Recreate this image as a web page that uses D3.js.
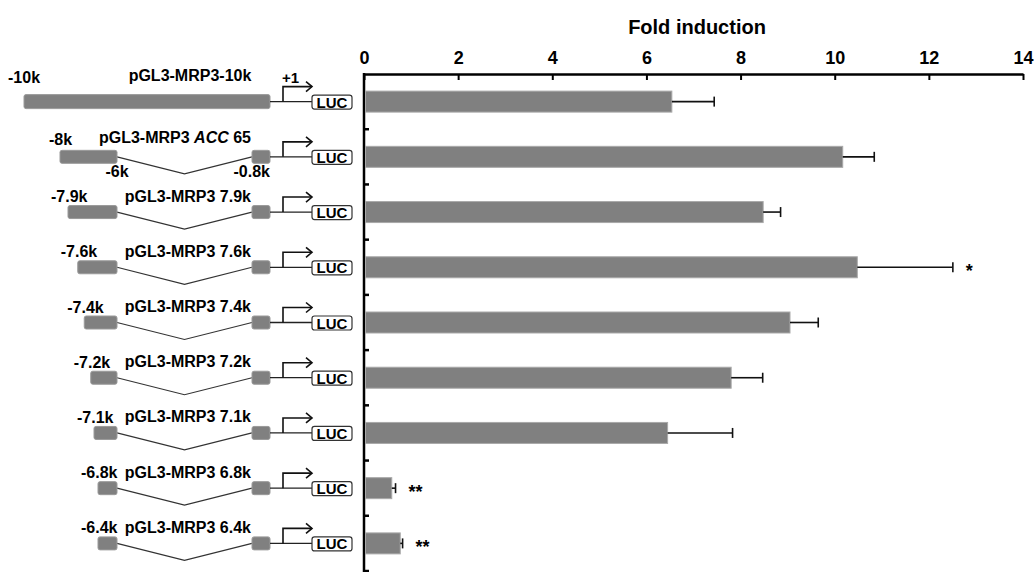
<!DOCTYPE html>
<html>
<head>
<meta charset="utf-8">
<script src="https://cdn.jsdelivr.net/npm/d3@7"></script>
<style>
  body { margin: 0; background: #fff; }
  svg { display: block; font-family: "Liberation Sans", Arial, sans-serif; font-weight: bold; }
</style>
</head>
<body>
<svg id="chart" width="1034" height="572"></svg>
<script>
// constructs, top to bottom
const constructs = ["pGL3-MRP3-10k", "pGL3-MRP3 ACC 65", "pGL3-MRP3 7.9k", "pGL3-MRP3 7.6k",
  "pGL3-MRP3 7.4k", "pGL3-MRP3 7.2k", "pGL3-MRP3 7.1k", "pGL3-MRP3 6.8k", "pGL3-MRP3 6.4k"];
const startLabels = ["-10k", "-8k", "-7.9k", "-7.6k", "-7.4k", "-7.2k", "-7.1k", "-6.8k", "-6.4k"];
const startKb = [-10, -8, -7.9, -7.6, -7.4, -7.2, -7.1, -6.8, -6.4];
const foldInduction = [6.54, 10.17, 8.48, 10.48, 9.05, 7.80, 6.45, 0.59, 0.77];
const errorBars = [0.90, 0.67, 0.37, 2.03, 0.60, 0.67, 1.38, 0.08, 0.05];
const significance = ["", "", "", "*", "", "", "", "**", "**"];
const xTicks = [0, 2, 4, 6, 8, 10, 12, 14];

const svg = d3.select("#chart");

const x = d3.scaleLinear().domain([0, 14]).range([364, 1023]);
const y = d3.scaleBand().domain(constructs).range([74, 571]);
const cy = (d) => y(d) + y.bandwidth() / 2;

// schematic position of each construct's 5' end (not to scale)
const gene = d3.scaleLinear()
  .domain([-10, -8, -7.9, -7.1, -6.8])
  .range([24, 60, 68, 94, 98])
  .clamp(true);
const delStart = 117, delEnd = 252, exonEnd = 270;
const lucX = 312, lucW = 40;

const rows = constructs.map((name, i) => ({
  name, i,
  start: startKb[i],
  startLabel: startLabels[i],
  value: foldInduction[i],
  err: errorBars[i],
  sig: significance[i]
}));

// title
svg.append("text")
  .attr("x", 697).attr("y", 34)
  .attr("text-anchor", "middle")
  .attr("font-size", 20)
  .text("Fold induction");

// top axis
const xAxis = svg.append("g")
  .attr("transform", "translate(0,74)")
  .call(d3.axisTop(x).tickValues(xTicks).tickSizeInner(-6).tickSizeOuter(0).tickPadding(10));
xAxis.select(".domain").attr("stroke", "#000").attr("stroke-width", 2.5);
xAxis.selectAll(".tick line").attr("stroke", "#000").attr("stroke-width", 2);
xAxis.selectAll(".tick text")
  .attr("fill", "#000")
  .attr("font-size", 18)
  .attr("font-family", "'Liberation Sans', Arial, sans-serif")
  .attr("font-weight", "bold");

// left axis line and ticks between rows
svg.append("line")
  .attr("x1", x(0)).attr("x2", x(0))
  .attr("y1", 73).attr("y2", 572)
  .attr("stroke", "#000").attr("stroke-width", 2.5);
svg.append("g").selectAll("line")
  .data(constructs.slice(1).map((d) => y(d)).concat([y.range()[1]]))
  .join("line")
  .attr("x1", x(0)).attr("x2", x(0) + 5)
  .attr("y1", (d) => d).attr("y2", (d) => d)
  .attr("stroke", "#000").attr("stroke-width", 2.5);

// bars
const barH = 21;
svg.append("g").selectAll("rect")
  .data(rows)
  .join("rect")
  .attr("x", x(0) + 1.5)
  .attr("y", (d) => cy(d.name) - barH / 2)
  .attr("width", (d) => x(d.value) - x(0) - 1.5)
  .attr("height", barH)
  .attr("fill", "#808080")
  .attr("stroke", "#a9a9a9")
  .attr("stroke-width", 1);

// error bars
const err = svg.append("g").attr("stroke", "#111").attr("stroke-width", 1.6);
err.selectAll("line.stem")
  .data(rows)
  .join("line")
  .attr("class", "stem")
  .attr("x1", (d) => x(d.value)).attr("x2", (d) => x(d.value + d.err))
  .attr("y1", (d) => cy(d.name)).attr("y2", (d) => cy(d.name));
err.selectAll("line.cap")
  .data(rows)
  .join("line")
  .attr("class", "cap")
  .attr("x1", (d) => x(d.value + d.err)).attr("x2", (d) => x(d.value + d.err))
  .attr("y1", (d) => cy(d.name) - 5).attr("y2", (d) => cy(d.name) + 5);

// significance stars
svg.append("g").selectAll("text")
  .data(rows.filter((d) => d.sig))
  .join("text")
  .attr("x", (d) => x(d.value + d.err) + 13)
  .attr("y", (d) => cy(d.name) + 10)
  .attr("font-size", 18)
  .text((d) => d.sig);

// construct diagrams
const diag = svg.append("g");
rows.forEach((d) => {
  const c = cy(d.name);
  const g = diag.append("g");
  if (d.i === 0) {
    g.append("rect")
      .attr("x", gene(d.start)).attr("y", c - 7)
      .attr("width", exonEnd - gene(d.start)).attr("height", 14)
      .attr("rx", 2).attr("fill", "#808080").attr("stroke", "#9a9a9a");
  } else {
    const left = gene(d.start);
    g.append("path")
      .attr("d", `M${delStart},${c} L${(delStart + delEnd) / 2},${c + 17} L${delEnd},${c}`)
      .attr("fill", "none").attr("stroke", "#333").attr("stroke-width", 1.2);
    g.append("rect")
      .attr("x", left).attr("y", c - 6.5)
      .attr("width", delStart - left).attr("height", 13)
      .attr("rx", 2).attr("fill", "#808080").attr("stroke", "#9a9a9a");
    g.append("rect")
      .attr("x", delEnd).attr("y", c - 6.5)
      .attr("width", exonEnd - delEnd).attr("height", 13)
      .attr("rx", 2).attr("fill", "#808080").attr("stroke", "#9a9a9a");
  }
  // linker to LUC
  g.append("line")
    .attr("x1", exonEnd).attr("x2", lucX)
    .attr("y1", c).attr("y2", c)
    .attr("stroke", "#222").attr("stroke-width", 1.3);
  // transcription start arrow
  g.append("path")
    .attr("d", `M283,${c} V${c - 15} H${lucX}`)
    .attr("fill", "none").attr("stroke", "#111").attr("stroke-width", 1.6);
  g.append("path")
    .attr("d", `M${lucX - 6},${c - 20} L${lucX},${c - 15} L${lucX - 6},${c - 10}`)
    .attr("fill", "none").attr("stroke", "#111").attr("stroke-width", 1.6);
  // LUC box
  g.append("rect")
    .attr("x", lucX).attr("y", c - 6.5)
    .attr("width", lucW).attr("height", 14)
    .attr("rx", 2.5).attr("fill", "#fff").attr("stroke", "#333").attr("stroke-width", 1.2);
  g.append("text")
    .attr("x", lucX + lucW / 2).attr("y", c + 6)
    .attr("text-anchor", "middle")
    .attr("font-size", 15)
    .text("LUC");

  // labels
  if (d.i === 0) {
    g.append("text").attr("x", 8).attr("y", c - 19).attr("font-size", 16).text(d.startLabel);
    g.append("text").attr("x", 190).attr("y", c - 21).attr("text-anchor", "middle")
      .attr("font-size", 16).text(d.name);
    g.append("text").attr("x", 282).attr("y", c - 19).attr("font-size", 15).text("+1");
  } else if (d.i === 1) {
    g.append("text").attr("x", 49).attr("y", c - 12).attr("font-size", 16).text(d.startLabel);
    const t = g.append("text").attr("x", 251).attr("y", c - 14).attr("text-anchor", "end")
      .attr("font-size", 16);
    t.append("tspan").text("pGL3-MRP3 ");
    t.append("tspan").attr("font-style", "italic").text("ACC");
    t.append("tspan").text(" 65");
    g.append("text").attr("x", delStart).attr("y", c + 20.5).attr("text-anchor", "middle")
      .attr("font-size", 16).text("-6k");
    g.append("text").attr("x", exonEnd).attr("y", c + 20.5).attr("text-anchor", "end")
      .attr("font-size", 16).text("-0.8k");
  } else {
    g.append("text").attr("x", gene(d.start) - 17).attr("y", c - 10)
      .attr("font-size", 16).text(d.startLabel);
    g.append("text").attr("x", 251).attr("y", c - 10.5).attr("text-anchor", "end")
      .attr("font-size", 16).text(d.name);
  }
});
</script>
</body>
</html>
